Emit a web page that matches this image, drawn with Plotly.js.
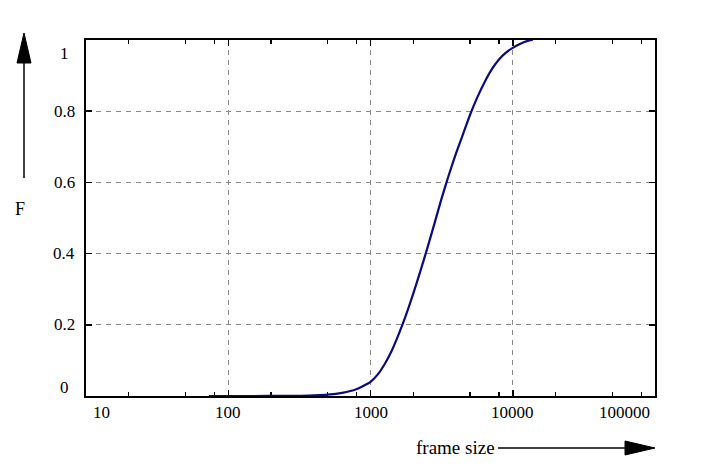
<!DOCTYPE html>
<html>
<head>
<meta charset="utf-8">
<script src="https://cdn.plot.ly/plotly-3.0.1.min.js"></script>
<style>html,body{margin:0;padding:0;background:#fff;}#chart{width:705px;height:467px;}</style>
</head>
<body>
<div id="chart"></div>
<script>
// Data
var frameSize = [73, 150, 250, 316, 398, 501, 631, 794, 1000, 1122, 1259, 1413, 1585, 1778, 1995, 2239, 2512, 2818, 3162, 3548, 3981, 4467, 5012, 5623, 6310, 7079, 7943, 8913, 10000, 11220, 12589, 13804];
var F = [0, 0, 0.0002, 0.0005, 0.002, 0.004, 0.009, 0.019, 0.040, 0.060, 0.090, 0.128, 0.175, 0.228, 0.287, 0.350, 0.416, 0.485, 0.555, 0.620, 0.680, 0.735, 0.790, 0.838, 0.880, 0.916, 0.944, 0.964, 0.978, 0.989, 0.997, 1.0];

var xTickVals = [10, 100, 1000, 10000, 100000];
var xTickLabels = ['10', '100', '1000', '10000', '100000'];
var xMinorVals = [20, 50, 80, 200, 500, 800, 2000, 5000, 8000, 20000, 50000, 80000];
var yTickVals = [0, 0.2, 0.4, 0.6, 0.8, 1];
var yTickLabels = ['0', '0.2', '0.4', '0.6', '0.8', '1'];
var xTitle = 'frame size';
var yTitle = 'F';

// layout helpers (pixel -> paper)
var L = 86, R = 655, T = 40, B = 396;
function px(x) { return (x - L) / (R - L); }
function py(y) { return (B - y) / (B - T); }

var font = "'Liberation Serif', 'Times New Roman', serif";
var annotations = [];
xTickVals.forEach(function (v, i) {
  var anchor = i === 0 ? 'left' : (i === xTickVals.length - 1 ? 'right' : 'center');
  var shift = i === 0 ? 5 : (i === xTickVals.length - 1 ? -3 : 0);
  annotations.push({
    x: Math.log10(v), xref: 'x', y: py(412), yref: 'paper',
    text: xTickLabels[i], showarrow: false, xanchor: anchor, yanchor: 'middle',
    xshift: shift, font: {family: font, size: 17, color: '#000'}
  });
});
yTickVals.forEach(function (v, i) {
  var ys = i === 0 ? 9 : (i === yTickVals.length - 1 ? -13 : 0);
  annotations.push({
    x: px(64), xref: 'paper', y: v, yref: 'y',
    text: yTickLabels[i], showarrow: false, xanchor: 'center', yanchor: 'middle',
    yshift: ys, font: {family: font, size: 17, color: '#000'}
  });
});
annotations.push({
  x: px(455), xref: 'paper', y: py(447), yref: 'paper', text: xTitle, showarrow: false,
  xanchor: 'center', yanchor: 'middle', font: {family: font, size: 19, color: '#000'}
});
annotations.push({
  x: px(20), xref: 'paper', y: py(209), yref: 'paper', text: yTitle, showarrow: false,
  xanchor: 'center', yanchor: 'middle', font: {family: font, size: 18, color: '#000'}
});

function tri(x1, y1, x2, y2, x3, y3) {
  return 'M' + px(x1) + ',' + py(y1) + ' L' + px(x2) + ',' + py(y2) + ' L' + px(x3) + ',' + py(y3) + ' Z';
}
var shapes = [
  {type: 'line', xref: 'paper', yref: 'paper', x0: px(498), y0: py(448), x1: px(630), y1: py(448), line: {color: '#000', width: 1.5}},
  {type: 'path', xref: 'paper', yref: 'paper', path: tri(655, 448, 625, 441, 625, 455), fillcolor: '#000', line: {color: '#000', width: 1}},
  {type: 'line', xref: 'paper', yref: 'paper', x0: px(24), y0: py(178), x1: px(24), y1: py(58), line: {color: '#000', width: 1.5}},
  {type: 'path', xref: 'paper', yref: 'paper', path: tri(24, 33, 17, 63, 31, 63), fillcolor: '#000', line: {color: '#000', width: 1}}
];

var trace = {
  x: frameSize, y: F, type: 'scatter', mode: 'lines',
  line: {color: '#0a0a80', width: 2.2, shape: 'spline', smoothing: 0.6},
  hoverinfo: 'skip', cliponaxis: false
};

var layout = {
  width: 705, height: 467,
  margin: {l: L, r: 705 - R, t: T, b: 467 - B, pad: 0},
  paper_bgcolor: '#fff', plot_bgcolor: '#fff',
  showlegend: false,
  font: {family: font},
  xaxis: {
    type: 'log', range: [1, 5], tickmode: 'array', tickvals: xTickVals, showticklabels: false,
    ticks: 'inside', ticklen: 6, tickwidth: 1.5, tickcolor: '#000',
    showline: true, linecolor: '#000', linewidth: 2, mirror: 'allticks',
    showgrid: true, gridcolor: '#888', griddash: '5px,5px', gridwidth: 1,
    zeroline: false, layer: 'below traces',
    minor: {tickmode: 'array', tickvals: xMinorVals, ticks: 'inside', ticklen: 4, tickwidth: 1.2, tickcolor: '#000', showgrid: false}
  },
  yaxis: {
    range: [0, 1], tickmode: 'array', tickvals: yTickVals, showticklabels: false,
    ticks: 'inside', ticklen: 6, tickwidth: 1.5, tickcolor: '#000',
    showline: true, linecolor: '#000', linewidth: 2, mirror: 'allticks',
    showgrid: true, gridcolor: '#888', griddash: '5px,5px', gridwidth: 1,
    zeroline: false, layer: 'below traces'
  },
  annotations: annotations,
  shapes: shapes
};

Plotly.newPlot('chart', [trace], layout, {staticPlot: true, displayModeBar: false});
</script>
</body>
</html>
